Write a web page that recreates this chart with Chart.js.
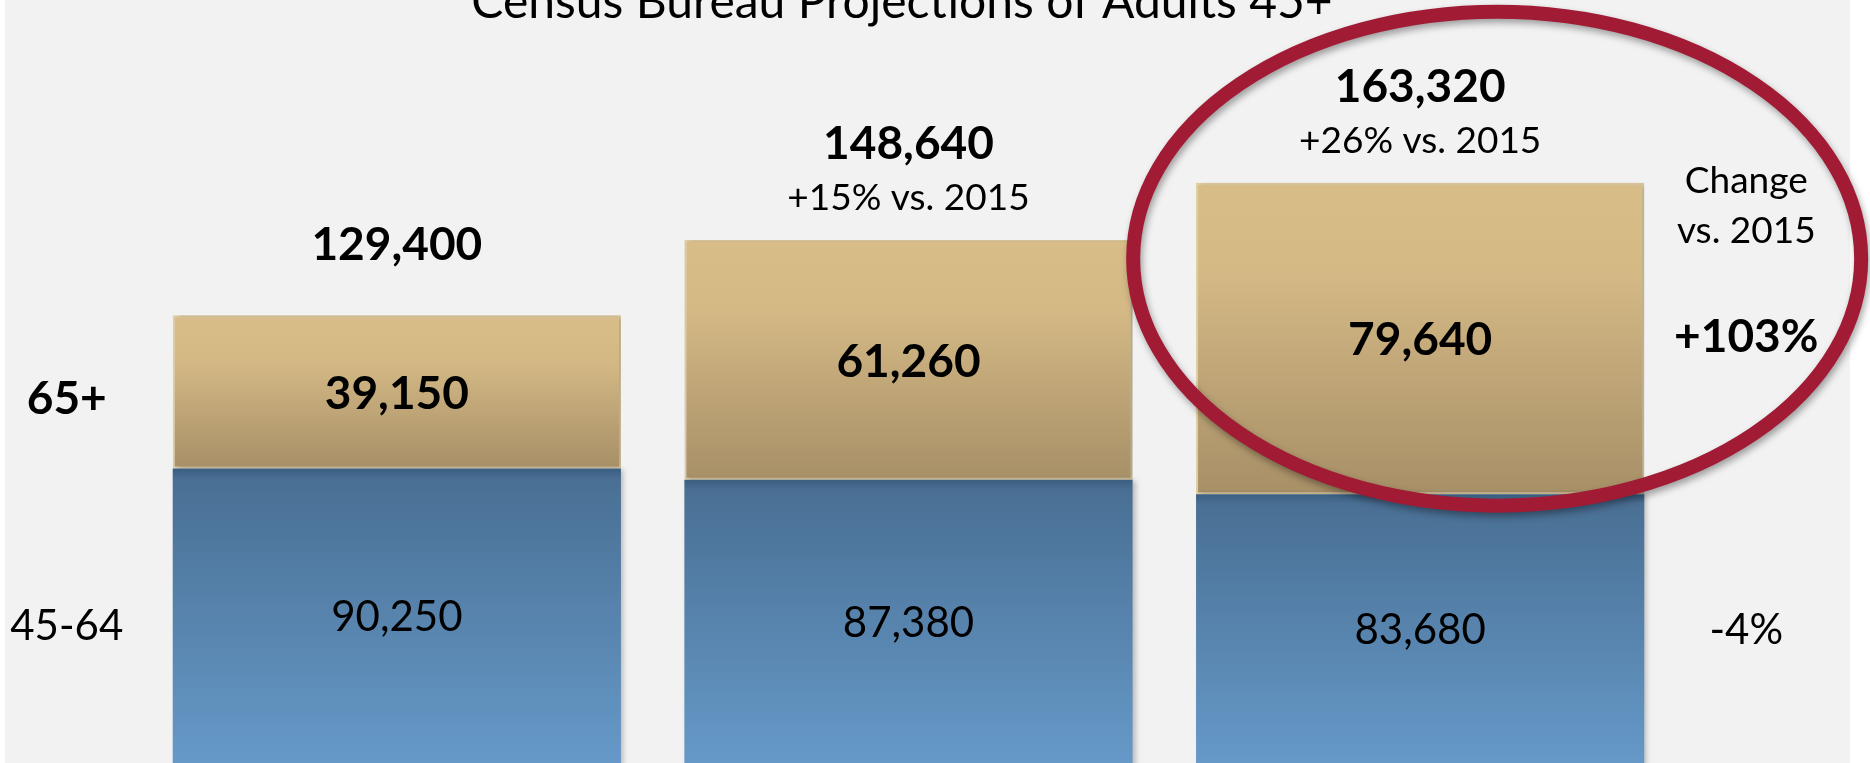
<!DOCTYPE html>
<html>
<head>
<meta charset="utf-8">
<script src="https://cdn.jsdelivr.net/npm/chart.js@4.4.1/dist/chart.umd.min.js"></script>
<style>
  html, body { margin: 0; padding: 0; background: #ffffff; }
  #wrap { position: relative; width: 1870px; height: 763px; }
</style>
</head>
<body>
<div id="wrap"><canvas id="chart"></canvas></div>
<script>
// Census Bureau projections, adults 45+ (thousands), stacked by age band.
const years = ['2015', '2025', '2035'];
const adults45to64 = [90250, 87380, 83680];
const adults65plus = [39150, 61260, 79640];
const totalNotes = ['', '+15% vs. 2015', '+26% vs. 2015'];
const rowLabels = ['45-64', '65+'];
const changeHeader = ['Change', 'vs. 2015'];
const changeVs2015 = ['-4%', '+103%'];
const titleText = 'Census Bureau Projections of Adults 45+';

const FONT = 'Lato, "Open Sans", sans-serif';
const fmt = (n) => n.toLocaleString('en-US');

// gradient per stacked segment, top of segment -> bottom of segment (or visible bottom)
function segmentFill(stops, isTop) {
    return (c) => {
        const chart = c.chart;
        const area = chart.chartArea;
        if (!area || c.dataIndex === undefined) {
            return stops[0][1];
        }
        const y = chart.scales.y;
        const i = c.dataIndex;
        const mid = y.getPixelForValue(adults45to64[i]);
        const top = isTop ? y.getPixelForValue(adults45to64[i] + adults65plus[i]) : mid;
        const bottom = isTop ? mid : area.bottom;
        const g = chart.ctx.createLinearGradient(0, top, 0, bottom);
        stops.forEach(([at, col]) => g.addColorStop(at, col));
        return g;
    };
}

const goldStops = [[0, '#d8bd89'], [0.3, '#d4b985'], [1, '#a78f67']];
const blueStops = [[0, '#3b5e80'], [0.035, '#4a6f94'], [0.1, '#4b7297'], [1, '#6699c8']];

const backdrop = {
    id: 'backdrop',
    beforeDraw(chart) {
        const { ctx, width, height } = chart;
        ctx.save();
        ctx.fillStyle = '#ffffff';
        ctx.fillRect(0, 0, width, height);
        ctx.fillStyle = '#f2f2f2';
        ctx.fillRect(5, 0, 1845, height);
        // title, cut by the top edge as in the slide
        ctx.fillStyle = '#000';
        ctx.font = `48px ${FONT}`;
        ctx.textAlign = 'center';
        ctx.textBaseline = 'alphabetic';
        ctx.fillText(titleText, 902, 18);
        ctx.restore();
    },
    beforeDatasetsDraw(chart) {
        chart.ctx.save();
        chart.ctx.shadowColor = 'rgba(0,0,0,0.22)';
        chart.ctx.shadowBlur = 5;
        chart.ctx.shadowOffsetX = 3;
    },
    afterDatasetsDraw(chart) {
        chart.ctx.restore();
    },
};

const labels = {
    id: 'labels',
    afterDatasetsDraw(chart) {
        const { ctx, chartArea } = chart;
        const low = chart.getDatasetMeta(0).data;
        const high = chart.getDatasetMeta(1).data;
        const text = (s, x, yMid, size, bold) => {
            ctx.font = `${bold ? 'bold ' : ''}${size}px ${FONT}`;
            ctx.fillText(s, x, yMid + size * 0.36);
        };
        ctx.save();
        ctx.fillStyle = '#000';
        ctx.textAlign = 'center';
        ctx.textBaseline = 'alphabetic';

        years.forEach((_, i) => {
            const lb = low[i];
            const hb = high[i];
            text(fmt(adults65plus[i]), hb.x, (hb.y + hb.base) / 2, 46, true);
            text(fmt(adults45to64[i]), lb.x, (lb.y + chartArea.bottom) / 2, 42, false);

            ctx.font = `bold 46px ${FONT}`;
            const total = fmt(adults45to64[i] + adults65plus[i]);
            if (totalNotes[i]) {
                ctx.fillText(total, hb.x, hb.y - 81);
                ctx.font = `37px ${FONT}`;
                ctx.fillText(totalNotes[i], hb.x, hb.y - 30);
            } else {
                ctx.fillText(total, hb.x, hb.y - 55);
            }
        });

        // row labels on the left, change column on the right
        const first = { lo: low[0], hi: high[0] };
        const last = { lo: low[2], hi: high[2] };
        const leftX = first.hi.x - first.hi.width / 2 - 106;
        const rightX = last.hi.x + last.hi.width / 2 + 102;
        text(rowLabels[1], leftX, (first.hi.y + first.hi.base) / 2 + 5, 46, true);
        text(rowLabels[0], leftX, (first.lo.y + chartArea.bottom) / 2 + 9, 42, false);

        ctx.font = `37px ${FONT}`;
        ctx.fillText(changeHeader[0], rightX, last.hi.y + 10);
        ctx.fillText(changeHeader[1], rightX, last.hi.y + 60);
        text(changeVs2015[1], rightX, (last.hi.y + last.hi.base) / 2 - 3, 46, true);
        text(changeVs2015[0], rightX, (last.lo.y + chartArea.bottom) / 2, 42, false);
        ctx.restore();
    },
    afterDraw(chart) {
        // red ring highlighting the latest projection
        const { ctx } = chart;
        const hb = chart.getDatasetMeta(1).data[2];
        ctx.save();
        ctx.strokeStyle = '#a11b35';
        ctx.lineWidth = 14;
        ctx.shadowColor = 'rgba(0,0,0,0.35)';
        ctx.shadowBlur = 7;
        ctx.shadowOffsetX = 2;
        ctx.shadowOffsetY = 4;
        ctx.beginPath();
        ctx.ellipse(hb.x + 77, hb.y + 76, 364, 247, 0, 0, Math.PI * 2);
        ctx.stroke();
        ctx.restore();
    },
};

new Chart(document.getElementById('chart'), {
    type: 'bar',
    data: {
        labels: years,
        datasets: [
            {
                label: '45-64',
                data: adults45to64,
                backgroundColor: segmentFill(blueStops, false),
                borderWidth: 0,
            },
            {
                label: '65+',
                data: adults65plus,
                backgroundColor: segmentFill(goldStops, true),
                borderColor: '#e2cd9e',
                borderWidth: 2,
                borderSkipped: false,
            },
        ],
    },
    options: {
        responsive: true,
        maintainAspectRatio: false,
        animation: false,
        layout: { padding: { left: 141, right: 194, top: 0, bottom: 0 } },
        datasets: { bar: { categoryPercentage: 1, barPercentage: 0.876 } },
        scales: {
            x: { stacked: true, display: false },
            y: { stacked: true, display: false, min: 15000, max: 210000 },
        },
        plugins: {
            legend: { display: false },
            tooltip: { enabled: false },
        },
    },
    plugins: [backdrop, labels],
});
</script>
</body>
</html>
